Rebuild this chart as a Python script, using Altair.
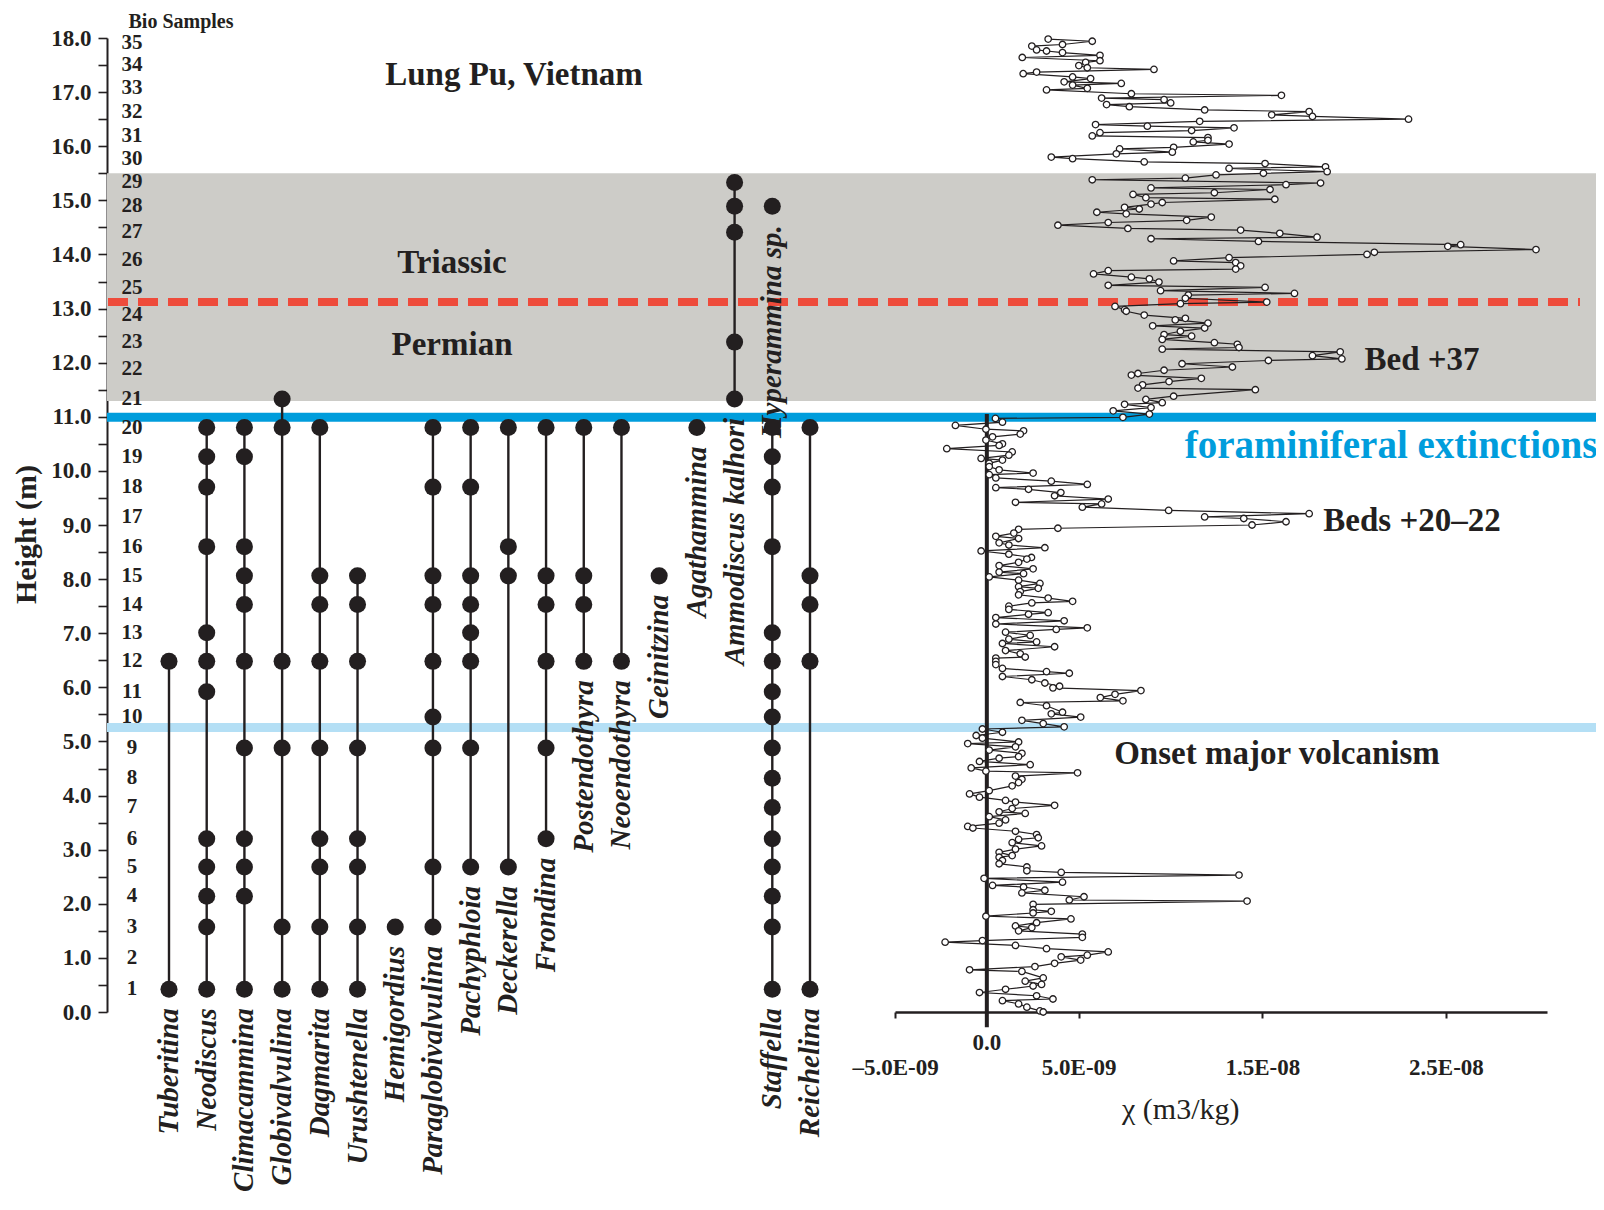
import altair as alt
import pandas as pd

FONT = "Liberation Serif"
INK = "#231f20"
GREY = "#cdccc8"
BLUE = "#009ddc"
LIGHT_BLUE = "#b4dff5"
RED = "#ee4b3b"

# ---------------- data ----------------
sample_numbers = list(range(1, 36))
sample_heights = [0.42, 0.99, 1.57, 2.14, 2.68, 3.20, 3.78, 4.32, 4.88, 5.45,
                  5.92, 6.48, 7.01, 7.53, 8.06, 8.60, 9.14, 9.70, 10.26, 10.80,
                  11.33, 11.88, 12.38, 12.89, 13.38, 13.89, 14.41, 14.89, 15.33, 15.77,
                  16.19, 16.64, 17.08, 17.50, 17.90]

columns = ["Tuberitina", "Neodiscus", "Climacammina", "Globivalvulina", "Dagmarita",
           "Urushtenella", "Hemigordius", "Paraglobivalvulina", "Pachyphloia", "Deckerella",
           "Frondina", "Postendothyra", "Neoendothyra", "Geinitzina", "Agathammina",
           "Ammodiscus kalhori", "Staffella", "Reichelina"]

taxa = ["Tuberitina", "Neodiscus", "Climacammina", "Globivalvulina", "Dagmarita",
        "Urushtenella", "Hemigordius", "Paraglobivalvulina", "Pachyphloia", "Deckerella",
        "Frondina", "Postendothyra", "Neoendothyra", "Geinitzina", "Agathammina",
        "Ammodiscus kalhori", "Staffella", "Hyperammina sp.", "Reichelina"]
taxon_column = ["Tuberitina", "Neodiscus", "Climacammina", "Globivalvulina", "Dagmarita",
                "Urushtenella", "Hemigordius", "Paraglobivalvulina", "Pachyphloia", "Deckerella",
                "Frondina", "Postendothyra", "Neoendothyra", "Geinitzina", "Agathammina",
                "Ammodiscus kalhori", "Staffella", "Staffella", "Reichelina"]
taxon_samples = [
    [1, 12],
    [1, 3, 4, 5, 6, 11, 12, 13, 16, 18, 19, 20],
    [1, 4, 5, 6, 9, 12, 14, 15, 16, 19, 20],
    [1, 3, 9, 12, 20, 21],
    [1, 3, 5, 6, 9, 12, 14, 15, 20],
    [1, 3, 5, 6, 9, 12, 14, 15],
    [3],
    [3, 5, 9, 10, 12, 14, 15, 18, 20],
    [5, 9, 12, 13, 14, 15, 18, 20],
    [5, 15, 16, 20],
    [6, 9, 12, 14, 15, 20],
    [12, 14, 15, 20],
    [12, 20],
    [15],
    [20],
    [21, 23, 27, 28, 29],
    [1, 3, 4, 5, 6, 7, 8, 9, 10, 11, 12, 13, 16, 18, 19, 20],
    [28],
    [1, 12, 14, 15, 20],
]

# magnetic susceptibility, chi in units of 1E-09 m3/kg, listed from top to bottom
chi_height = [
    17.98, 17.94, 17.88, 17.85, 17.78, 17.76, 17.73, 17.68, 17.64, 17.58,
    17.55, 17.49, 17.45, 17.42, 17.37, 17.34, 17.28, 17.25, 17.19, 17.16,
    17.13, 17.07, 17.04, 16.97, 16.94, 16.89, 16.86, 16.80, 16.77, 16.73,
    16.67, 16.64, 16.58, 16.55, 16.50, 16.46, 16.40, 16.37, 16.34, 16.29,
    16.25, 16.19, 16.16, 16.11, 16.08, 16.04, 15.98, 15.95, 15.89, 15.86,
    15.80, 15.77, 15.71, 15.68, 15.62, 15.59, 15.53, 15.50, 15.47, 15.41,
    15.38, 15.32, 15.29, 15.23, 15.20, 15.14, 15.11, 15.05, 15.02, 14.96,
    14.93, 14.87, 14.84, 14.78, 14.75, 14.69, 14.63, 14.59, 14.54, 14.48,
    14.45, 14.39, 14.32, 14.29, 14.24, 14.18, 14.15, 14.09, 14.04, 14.00,
    13.94, 13.88, 13.85, 13.79, 13.73, 13.70, 13.64, 13.58, 13.55, 13.49,
    13.43, 13.39, 13.33, 13.28, 13.25, 13.19, 13.12, 13.09, 13.04, 12.98,
    12.95, 12.88, 12.82, 12.79, 12.73, 12.68, 12.64, 12.58, 12.52, 12.49,
    12.43, 12.37, 12.34, 12.28, 12.25, 12.20, 12.13, 12.07, 12.04, 11.98,
    11.92, 11.86, 11.80, 11.77, 11.71, 11.65, 11.59, 11.53, 11.50, 11.38,
    11.32, 11.26, 11.23, 11.17, 11.11, 11.05, 10.99, 10.97,
    10.90, 10.84, 10.77, 10.74, 10.68, 10.63, 10.57, 10.50, 10.47, 10.41,
    10.35, 10.29, 10.23, 10.20, 10.14, 10.08, 10.02, 9.96, 9.93, 9.87,
    9.81, 9.75, 9.69, 9.66, 9.60, 9.54, 9.48, 9.42, 9.39, 9.33,
    9.27, 9.21, 9.15, 9.12, 9.06, 9.00, 8.94, 8.92, 8.85, 8.79,
    8.75, 8.67, 8.63, 8.58, 8.52, 8.46, 8.40, 8.37, 8.31, 8.25,
    8.19, 8.13, 8.10, 8.04, 7.98, 7.92, 7.86, 7.83, 7.77, 7.71,
    7.65, 7.59, 7.56, 7.50, 7.44, 7.38, 7.35, 7.29, 7.23, 7.17,
    7.10, 7.07, 7.02, 6.96, 6.89, 6.84, 6.81, 6.75, 6.68, 6.62,
    6.56, 6.54, 6.48, 6.42, 6.35, 6.29, 6.26, 6.20, 6.14, 6.08,
    6.02, 5.99, 5.94, 5.87, 5.81, 5.75, 5.72, 5.66, 5.54, 5.51,
    5.45, 5.39, 5.33, 5.27, 5.23, 5.17, 5.11, 5.06, 4.99, 4.96,
    4.90, 4.84, 4.78, 4.72, 4.69, 4.63, 4.57, 4.51, 4.45, 4.42,
    4.36, 4.30, 4.24, 4.18, 4.09, 4.03, 3.97, 3.91, 3.88, 3.82,
    3.76, 3.70, 3.67, 3.61, 3.55, 3.49, 3.43, 3.40, 3.34, 3.28,
    3.22, 3.19, 3.13, 3.07, 3.01, 2.95, 2.89, 2.86, 2.80, 2.74,
    2.68, 2.61, 2.58, 2.53, 2.47, 2.40, 2.34, 2.31, 2.25, 2.20,
    2.13, 2.07, 2.05, 1.99, 1.89, 1.86, 1.83, 1.77, 1.72, 1.65,
    1.59, 1.56, 1.50, 1.44, 1.38, 1.32, 1.29, 1.23, 1.17, 1.11,
    1.05, 1.02, 0.96, 0.90, 0.84, 0.78, 0.75, 0.63, 0.57, 0.51,
    0.48, 0.42, 0.36, 0.30, 0.24, 0.21, 0.15, 0.09, 0.02, 0.00,
]
chi_e9 = [
    3.34, 5.74, 4.12, 2.45, 2.71, 3.25, 4.12, 6.16, 1.93, 6.16,
    5.38, 5.01, 5.47, 9.10, 2.71, 1.98, 4.67, 5.65, 4.21, 7.32,
    4.67, 5.47, 3.25, 7.87, 16.04, 6.25, 9.65, 10.01, 6.52, 7.76,
    11.86, 17.55, 15.51, 17.73, 22.96, 11.59, 5.92, 8.74, 13.46, 11.15,
    6.16, 5.74, 12.04, 12.04, 11.24, 13.19, 10.17, 7.23, 10.10, 7.05,
    3.51, 4.67, 8.57, 15.15, 18.44, 13.19, 18.53, 15.06, 12.48, 10.81,
    5.74, 18.17, 16.29, 8.94, 15.42, 12.39, 7.96, 8.66, 15.68, 9.55,
    8.94, 7.50, 8.30, 5.99, 7.59, 12.22, 10.88, 6.61, 3.87, 7.68,
    13.82, 15.95, 17.98, 8.94, 14.79, 25.8, 25.1, 29.9, 21.1, 20.7,
    13.19, 10.17, 13.55, 13.82, 13.55, 6.61, 5.81, 7.87, 8.85, 9.37,
    6.61, 15.15, 9.46, 16.75, 10.97, 10.81, 15.24, 10.54, 6.98, 7.50,
    7.59, 8.57, 10.81, 10.26, 12.04, 9.03, 11.86, 10.54, 9.65, 11.15,
    9.55, 12.39, 13.64, 13.73, 9.55, 19.24, 17.73, 19.33, 15.33, 10.63,
    13.37, 9.65, 8.23, 7.87, 11.68, 9.92, 8.48, 8.23, 14.62, 10.17,
    8.66, 9.55, 7.50, 8.94, 6.88, 8.85, 7.41, 0.47,
    0.85, -1.71, -0.05, 2.00, 1.82, 0.31, -0.05, 0.85, 0.67, -2.18,
    1.38, 1.20, -0.31, 0.85, 0.13, 0.13, 0.67, 2.52, 0.13, 0.49,
    3.51, 5.47, 0.49, 2.27, 4.03, 3.69, 6.61, 1.56, 6.25, 5.20,
    9.90, 17.55, 11.86, 13.99, 16.29, 14.44, 3.87, 1.73, 1.47, 0.49,
    1.73, 0.67, 1.20, 3.16, -0.31, 1.20, 2.43, 2.18, 1.73, 0.67,
    2.52, 0.67, 2.00, 0.13, 1.73, 2.89, 1.73, 2.80, 1.82, 1.73,
    3.34, 4.67, 2.45, 1.20, 1.20, 3.34, 2.27, 0.49, 4.21, 0.49,
    5.47, 3.78, 1.02, 2.36, 1.20, 2.71, 0.85, 3.69, 1.02, 1.82,
    2.09, 0.49, 0.49, 0.49, 0.85, 3.25, 4.49, 0.85, 2.45, 3.16,
    3.96, 3.60, 8.39, 6.98, 6.18, 7.41, 1.82, 3.25, 4.12, 3.51,
    5.11, 1.91, 3.07, 4.21, -0.24, 0.85, -0.58, -0.24, 1.73, -1.04,
    1.56, 0.13, 1.91, 1.73, 0.67, -0.40, 2.36, -0.85, -0.05, 4.94,
    1.56, 1.91, 1.73, 1.38, 0.13, -0.94, -0.40, 1.02, 1.56, 3.69,
    1.38, 0.67, 2.09, 0.13, 1.02, 0.67, -1.04, -0.76, 1.56, 2.71,
    2.80, 1.73, 1.38, 2.98, 1.56, 0.67, 1.38, 0.67, 0.85, 0.67,
    2.18, 2.18, 4.05, 13.73, -0.15, 4.12, 0.31, 2.00, 3.16, 1.91,
    5.29, 4.49, 14.17, 2.52, 2.52, 3.51, 2.52, -0.05, 4.58, 2.71,
    1.56, 2.45, 1.73, 5.20, 5.20, -0.24, -2.27, 1.56, 3.25, 6.61,
    5.47, 4.05, 5.11, 3.69, 2.62, -0.94, 1.91, 3.07, 2.09, 2.98,
    2.52, 1.02, -0.40, 2.71, 3.60, 0.85, 1.73, 2.18, 2.89, 3.07,
]
assert len(chi_height) == len(chi_e9)

chi_tick_values = [-5, 5, 15, 25]
chi_tick_labels = ["\u20135.0E-09", "5.0E-09", "1.5E-08", "2.5E-08"]

y_tick_values = [i * 0.5 for i in range(37)]

# levels of the horizontal markers (m)
band_bottom, band_top = 11.29, 15.50
extinction_level = 10.99
ptb_level = 13.12
volcanism_level = 5.26

# ---------------- tables ----------------
samples_df = pd.DataFrame({"sample": sample_numbers, "height": sample_heights})
h_of = dict(zip(sample_numbers, sample_heights))

occ_rows = []
for t, c, ss in zip(taxa, taxon_column, taxon_samples):
    for s in ss:
        occ_rows.append({"taxon": t, "column": c, "sample": s, "height": h_of[s]})
occ_df = pd.DataFrame(occ_rows)
rng_df = occ_df.groupby(["taxon", "column"], as_index=False).agg(lo=("height", "min"), hi=("height", "max"))
line_df = rng_df[rng_df["hi"] > rng_df["lo"]]

chi_df = pd.DataFrame({"idx": range(len(chi_e9)), "height": chi_height, "chi": chi_e9})

# ---------------- scales / axes ----------------
W, H = 1489, 974
yscale = alt.Scale(domain=[0, 18], nice=False, zero=False)
yaxis = alt.Axis(values=y_tick_values,
                 labelExpr="datum.value % 1 === 0 ? format(datum.value, '.1f') : ''",
                 grid=False, tickSize=9, tickWidth=1.6, tickColor=INK,
                 domainColor=INK, domainWidth=2, labelFont=FONT, labelFontWeight="bold",
                 labelFontSize=23, labelColor=INK, labelPadding=7, labelFlush=False,
                 labelOverlap=False, titleFont=FONT, titleFontSize=30, titleFontWeight="bold",
                 titleColor=INK, titleAngle=270, titleX=-81, titleY=496,
                 titleBaseline="middle", titleAlign="center")
YT = "Height (m)"


def Yf(field):
    return alt.Y(field, type="quantitative", scale=yscale, axis=yaxis, title=YT)


def Yd(v):
    return alt.YDatum(v, type="quantitative", scale=yscale, axis=yaxis, title=YT)


col_scale = alt.Scale(type="point", domain=columns, range=[62, 703], padding=0)
Xcol = alt.X("column:N", scale=col_scale, axis=None)

expr = "''"
for v, lab in reversed(list(zip(chi_tick_values, chi_tick_labels))):
    expr = f"datum.value === {v} ? '{lab}' : ({expr})"
chi_scale = alt.Scale(domain=[-5, 30.5], range=[788, 1440], nice=False, zero=False)
chi_axis = alt.Axis(values=chi_tick_values, labelExpr=expr, grid=False, orient="bottom",
                    domainColor=INK, domainWidth=2.5, tickColor=INK, tickWidth=2, tickSize=6,
                    labelFont=FONT, labelFontWeight="bold", labelFontSize=23, labelColor=INK,
                    labelPadding=38, labelFlush=False, labelOverlap=False, title=None)
Xchi = alt.X("chi:Q", scale=chi_scale, axis=chi_axis)

one = pd.DataFrame({"k": [0]})

# ---------------- background markers ----------------
band = alt.Chart(one).mark_rect(color=GREY).encode(
    x=alt.value(0), x2=alt.value(W), y=Yd(band_top), y2=alt.Y2Datum(band_bottom))
volc = alt.Chart(one).mark_rule(color=LIGHT_BLUE, strokeWidth=9).encode(
    x=alt.value(0), x2=alt.value(W), y=Yd(volcanism_level))
ext = alt.Chart(one).mark_rule(color=BLUE, strokeWidth=9).encode(
    x=alt.value(0), x2=alt.value(W), y=Yd(extinction_level))
ptb = alt.Chart(one).mark_rule(color=RED, strokeWidth=8, strokeDash=[20, 10]).encode(
    x=alt.value(1), x2=alt.value(1473), y=Yd(ptb_level))
background = alt.layer(band, volc, ext, ptb)

# ---------------- range chart ----------------
ranges = alt.Chart(line_df).mark_rule(color=INK, strokeWidth=2.4).encode(
    x=Xcol, y=Yf("lo"), y2=alt.Y2("hi"))
dots = alt.Chart(occ_df).mark_circle(color=INK, size=290, opacity=1).encode(
    x=Xcol, y=Yf("height"))
names = alt.Chart(rng_df).mark_text(angle=270, align="right", baseline="middle", dx=-19,
                                    font=FONT, fontStyle="italic", fontWeight="bold",
                                    fontSize=29, color=INK).encode(
    x=Xcol, y=Yf("lo"), text="taxon:N")
bio_nums = alt.Chart(samples_df).mark_text(font=FONT, fontWeight="bold", fontSize=21,
                                           color=INK, align="center", baseline="middle").encode(
    x=alt.value(25), y=Yf("height"), text="sample:N")
taxa_part = alt.layer(ranges, dots, names)

# ---------------- chi profile ----------------
zero_df = pd.DataFrame({"chi": [0], "lo": [-0.28], "hi": [11.05]})
zero_rule = alt.Chart(zero_df).mark_rule(color=INK, strokeWidth=4).encode(
    x=Xchi, y=Yf("lo"), y2=alt.Y2("hi"))
chi_line = alt.Chart(chi_df).mark_line(color=INK, strokeWidth=1.2).encode(
    x=Xchi, y=Yf("height"), order="idx:Q")
chi_pts = alt.Chart(chi_df).mark_circle(color="white", stroke=INK, strokeWidth=1.3,
                                        size=42, opacity=1).encode(
    x=Xchi, y=Yf("height"))
zero_lab = alt.Chart(zero_df).mark_text(text="0.0", font=FONT, fontWeight="bold", fontSize=23,
                                        color=INK, baseline="middle").encode(
    x=Xchi, y=alt.value(1005))
title_df = pd.DataFrame({"chi": [10.56]})
chi_title = alt.Chart(title_df).mark_text(text="\u03c7 (m3/kg)", font=FONT, fontSize=30,
                                          color=INK, baseline="middle").encode(
    x=Xchi, y=alt.value(1072))
chi_part = alt.layer(zero_rule, chi_line, chi_pts, zero_lab, chi_title)


# ---------------- annotations ----------------
def note(text, h, xpx, size=33, color=INK):
    return alt.Chart(one).mark_text(text=text, font=FONT, fontWeight="bold", fontSize=size,
                                    color=color, align="center", baseline="middle").encode(
        x=alt.value(xpx), y=Yd(h))


notes = alt.layer(
    note("Lung Pu, Vietnam", 17.31, 407),
    note("Triassic", 13.84, 345),
    note("Permian", 12.32, 345),
    note("Bed +37", 12.05, 1315),
    note("foraminiferal extinctions", 10.46, 1284, size=39, color=BLUE),
    note("Beds +20\u201322", 9.08, 1305),
    note("Onset major volcanism", 4.76, 1170),
    alt.Chart(one).mark_text(text="Bio Samples", font=FONT, fontWeight="bold", fontSize=20,
                             color=INK, align="center", baseline="alphabetic").encode(
        x=alt.value(74), y=alt.value(-10)),
    bio_nums,
)

chart = alt.layer(background, taxa_part, chi_part, notes).resolve_scale(
    x="independent"
).properties(
    width=W, height=H,
    padding={"left": 99, "top": 30, "right": 0, "bottom": 184},
    autosize=alt.AutoSizeParams(type="none"),
    background="white",
).configure_view(stroke=None)

chart.save("out.html", embed_options={"renderer": "svg", "actions": False})
